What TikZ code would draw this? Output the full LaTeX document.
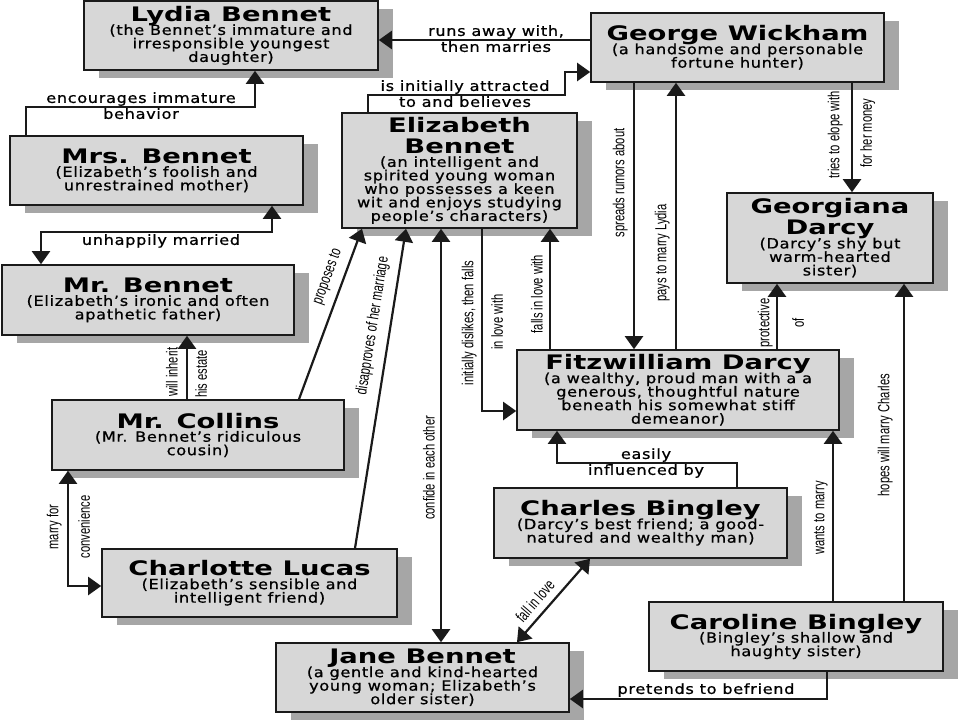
\documentclass[tikz,border=0pt]{standalone}
\usepackage{fontspec}
\usetikzlibrary{arrows.meta,shadows}
\newfontfamily\ttlfam[FakeStretch=1.37]{DejaVu Sans}
\newfontfamily\dscfam[FakeStretch=1.15,LetterSpace=5,FakeBold=0.8]{DejaVu Sans}
\newfontfamily\cndfam[FakeStretch=0.7]{Liberation Sans}
\newcommand\ttlfont{\ttlfam\bfseries\fontsize{20}{21}\selectfont}
\newcommand\dscfont{\dscfam\fontsize{14}{13.5}\selectfont\lineskiplimit=-50pt\lineskip=0pt}
\newcommand\cndfont{\cndfam\fontsize{16}{17}\selectfont}
\definecolor{boxgray}{HTML}{D7D7D7}
\definecolor{shadowgray}{HTML}{A6A6A6}
\definecolor{linecol}{HTML}{1A1A1A}
\tikzset{
  person/.style={draw=linecol, line width=1.6pt, fill=boxgray, align=center,
    inner sep=2pt, font=\dscfont,
    drop shadow={shadow xshift=15pt, shadow yshift=-8pt, fill=shadowgray, opacity=1}},
  conn/.style={draw=linecol, line width=2.2pt},
  arr/.style={conn, -{Triangle[width=18pt,length=13pt]}},
  arrs/.style={conn, {Triangle[width=18pt,length=13pt]}-{Triangle[width=18pt,length=13pt]}},
  lab/.style={font=\dscfont, inner sep=1pt},
  vlab/.style={font=\cndfont, rotate=90, inner sep=0pt},
}
\begin{document}
\begin{tikzpicture}[x=1pt,y=-1pt]
\fill[white] (0,0) rectangle (960,720);
\useasboundingbox (0,0) rectangle (960,720);

% boxes
\node[person, minimum width=294pt, minimum height=69pt] (lydia) at (231,35.5)
  {{\ttlfont Lydia Bennet}\\(the Bennet’s immature and\\irresponsible youngest\\daughter)};
\node[person, minimum width=293pt, minimum height=69pt] (wick) at (737.5,47.5)
  {{\ttlfont George Wickham}\\(a handsome and personable\\fortune hunter)};
\node[person, minimum width=293pt, minimum height=69pt] (mrs) at (156.5,170.5)
  {{\ttlfont Mrs. Bennet}\\(Elizabeth’s foolish and\\unrestrained mother)};
\node[person, minimum width=235pt, minimum height=115pt] (eliz) at (459.5,170.5)
  {{\ttlfont Elizabeth}\\[7.5pt]{\ttlfont Bennet}\\(an intelligent and\\spirited young woman\\who possesses a keen\\wit and enjoys studying\\people’s characters)};
\node[person, minimum width=206pt, minimum height=90pt] (georg) at (830,238)
  {{\ttlfont Georgiana}\\[7.5pt]{\ttlfont Darcy}\\(Darcy’s shy but\\warm-hearted\\sister)};
\node[person, minimum width=292pt, minimum height=70pt] (mrb) at (148,300)
  {{\ttlfont Mr. Bennet}\\(Elizabeth’s ironic and often\\apathetic father)};
\node[person, minimum width=322pt, minimum height=80pt] (darcy) at (678,390)
  {{\ttlfont Fitzwilliam Darcy}\\(a wealthy, proud man with a a\\generous, thoughtful nature\\beneath his somewhat stiff\\demeanor)};
\node[person, minimum width=292pt, minimum height=70pt] (collins) at (198,435)
  {{\ttlfont Mr. Collins}\\(Mr. Bennet’s ridiculous\\cousin)};
\node[person, minimum width=293pt, minimum height=70pt] (charles) at (640.5,523)
  {{\ttlfont Charles Bingley}\\(Darcy’s best friend; a good-\\natured and wealthy man)};
\node[person, minimum width=295pt, minimum height=68pt] (charlotte) at (249.5,583)
  {{\ttlfont Charlotte Lucas}\\(Elizabeth’s sensible and\\intelligent friend)};
\node[person, minimum width=294pt, minimum height=69pt] (caro) at (796,636.5)
  {{\ttlfont Caroline Bingley}\\(Bingley’s shallow and\\haughty sister)};
\node[person, minimum width=293pt, minimum height=69pt] (jane) at (422.5,677.5)
  {{\ttlfont Jane Bennet}\\(a gentle and kind-hearted\\young woman; Elizabeth’s\\older sister)};

% connectors
\draw[arr] (wick.west |- 0,40) -- (lydia.east |- 0,40);
\node[lab, anchor=south] (l1a) at (496,40) {runs away with,};
\node[lab, anchor=north] (l1b) at (496,40) {then marries};

\draw[arr] (368,0 |- eliz.north) -- (368,95) -- (565,95) -- (565,72) -- (wick.west |- 0,72);
\node[lab, anchor=south] (l2a) at (465,95) {is initially attracted};
\node[lab, anchor=north] (l2b) at (465,95) {to and believes};

\draw[arr] (26,0 |- mrs.north) -- (26,107) -- (255,107) -- (255,0 |- lydia.south);
\node[lab, anchor=south] (l3a) at (141,107) {encourages immature};
\node[lab, anchor=north] (l3b) at (141,107) {behavior};

\draw[arrs] (272,0 |- mrs.south) -- (272,232) -- (41,232) -- (41,0 |- mrb.north);
\node[lab, anchor=north] (l4) at (161,233) {unhappily married};

\draw[arr] (187,0 |- collins.north) -- (187,0 |- mrb.south);
\node[vlab, anchor=south] (l5a) at (178,372) {will inherit};
\node[vlab, anchor=north] (l5b) at (195,374) {his estate};

\draw[arr] (299,0 |- collins.north) -- (362,0 |- eliz.south);
\node[vlab, rotate=-20] (l6) at (328,277) {proposes to};

\draw[arr] (355,0 |- charlotte.north) -- (406,0 |- eliz.south);
\node[vlab, rotate=-9] (l7) at (373,326) {disapproves of her marriage};

\draw[arrs] (441,0 |- eliz.south) -- (441,0 |- jane.north);
\node[vlab, anchor=south] (l8) at (435,468) {confide in each other};

\draw[arr] (482,0 |- eliz.south) -- (482,411) -- (darcy.west |- 0,411);
\node[vlab, anchor=south] (l9a) at (477,323) {initially dislikes, then falls};
\node[vlab, anchor=north] (l9b) at (491,322) {in love with};

\draw[arr] (550,0 |- darcy.north) -- (550,0 |- eliz.south);
\node[vlab, anchor=south] (l10) at (543,294) {falls in love with};

\draw[arr] (634,0 |- wick.south) -- (634,0 |- darcy.north);
\node[vlab, anchor=south] (l11) at (628,183) {spreads rumors about};

\draw[arr] (676,0 |- darcy.north) -- (676,0 |- wick.south);
\node[vlab, anchor=south] (l12) at (670,253) {pays to marry Lydia};

\draw[arr] (852,0 |- wick.south) -- (852,0 |- georg.north);
\node[vlab, anchor=south] (l13a) at (843,135) {tries to elope with};
\node[vlab, anchor=north] (l13b) at (860,133) {for her money};

\draw[arr] (777,0 |- darcy.north) -- (777,0 |- georg.south);
\node[vlab, anchor=south] (l14a) at (773,323) {protective};
\node[vlab, anchor=north] (l14b) at (792,323) {of};

\draw[arr] (904,0 |- caro.north) -- (904,0 |- georg.south);
\node[vlab, anchor=south] (l15) at (893,435) {hopes will marry Charles};

\draw[arr] (833,0 |- caro.north) -- (833,0 |- darcy.south);
\node[vlab, anchor=south] (l16) at (828,518) {wants to marry};

\draw[arr] (737,0 |- charles.north) -- (737,463) -- (557,463) -- (557,0 |- darcy.south);
\node[lab, anchor=south] (l17a) at (646,463) {easily};
\node[lab, anchor=north] (l17b) at (646,463) {influenced by};

\draw[arrs] (517,0 |- jane.north) -- (590,0 |- charles.south);
\node[vlab, rotate=-40.7] (l18) at (535,601) {fall in love};

\draw[arr] (827,0 |- caro.south) -- (827,699) -- (jane.east |- 0,699);
\node[lab, anchor=south] (l19) at (706,698) {pretends to befriend};

\draw[arrs] (68,0 |- collins.south) -- (68,586) -- (charlotte.west |- 0,586);
\node[vlab, anchor=south] (l20a) at (62,527) {marry for};
\node[vlab, anchor=north] (l20b) at (78,527) {convenience};
\end{tikzpicture}
\end{document}
